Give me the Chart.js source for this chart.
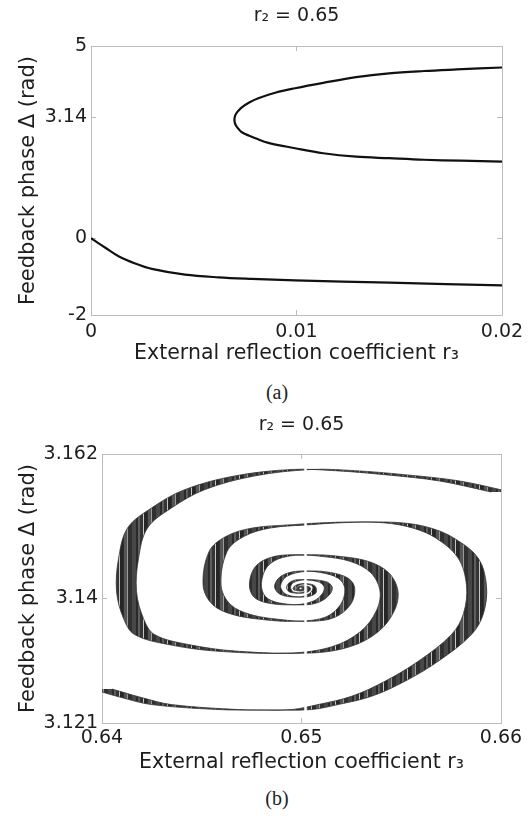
<!DOCTYPE html>
<html>
<head>
<meta charset="utf-8">
<script src="https://cdn.jsdelivr.net/npm/chart.js@4.4.1/dist/chart.umd.min.js"></script>
<style>
  body { margin: 0; width: 532px; height: 816px; background: #fff; position: relative; overflow: hidden; }
  canvas { position: absolute; left: 0; }
  #top { top: 0; }
  #bottom { top: 400px; }
  .tag { position: absolute; left: 0; width: 554px; text-align: center; font: 20px "Liberation Serif", serif; color: #1e1e1e; line-height: 23px; }
</style>
</head>
<body>
<canvas id="top" width="532" height="380"></canvas>
<div class="tag" style="top:381px">(a)</div>
<canvas id="bottom" width="532" height="380"></canvas>
<div class="tag" style="top:787px">(b)</div>
<script>
'use strict';

// (a) ticks
let topXTicks = [0, 0.01, 0.02];
let topYTicks = [-2, 0, 3.14, 5];

// (a) C-shaped branch, upper arm in to the nose then back out along the lower arm
let loopX = [0.0200, 0.0178, 0.0162, 0.0145, 0.0129, 0.0113, 0.00993, 0.0090, 0.00814, 0.0077, 0.00734, 0.00717, 0.00706, 0.00700,
    0.00698, 0.00700, 0.00706, 0.00717, 0.00734, 0.0077, 0.0080, 0.00863, 0.00993, 0.0113, 0.0129, 0.0145, 0.0162, 0.0180, 0.0200];
let loopY = [4.44, 4.39, 4.35, 4.29, 4.19, 4.04, 3.90, 3.79, 3.64, 3.53, 3.405, 3.314, 3.236, 3.16,
    3.08, 3.00, 2.924, 2.846, 2.755, 2.665, 2.60, 2.48, 2.34, 2.21, 2.12, 2.08, 2.04, 2.015, 1.99];

// (a) lower branch starting at the origin
let lowX = [0, 0.0003, 0.0007, 0.00134, 0.00215, 0.00296, 0.00458, 0.0062, 0.00782, 0.00993, 0.01454, 0.0200];
let lowY = [0, -0.11, -0.25, -0.47, -0.66, -0.80, -0.95, -1.02, -1.06, -1.10, -1.16, -1.23];

// (b) ticks
let botXTicks = [0.64, 0.65, 0.66];
let botYTicks = [3.121, 3.14, 3.162];

// (b) spiral arm entering at the top right: centre line and band width in r3
let armAX = [0.6600, 0.65742, 0.65466, 0.65216, 0.65000, 0.64714, 0.64464, 0.64298, 0.64178, 0.64133, 0.64123, 0.64158,
    0.64213, 0.64383, 0.64634, 0.65000, 0.65201, 0.65341, 0.65421, 0.65438, 0.65391, 0.65291, 0.65150, 0.65000,
    0.64875, 0.64799, 0.64769, 0.64789, 0.64860, 0.65000, 0.65080, 0.65125, 0.65133, 0.65100, 0.65000, 0.64950,
    0.64935, 0.64950, 0.65000, 0.65030, 0.65035, 0.65020, 0.65000, 0.64985, 0.64984, 0.65000, 0.65008];
let armAY = [3.15621, 3.15789, 3.15885, 3.15946, 3.15964, 3.15865, 3.15656, 3.15377, 3.15072, 3.14607, 3.14104, 3.13693,
    3.13449, 3.13296, 3.13193, 3.13167, 3.13266, 3.13494, 3.13815, 3.14120, 3.14394, 3.14562, 3.14638, 3.14665,
    3.14623, 3.14485, 3.14226, 3.14028, 3.13929, 3.13903, 3.13959, 3.14074, 3.14180, 3.14257, 3.14284, 3.14241,
    3.14165, 3.14097, 3.14081, 3.14112, 3.14158, 3.14185, 3.14187, 3.14165, 3.14135, 3.14130, 3.14150];
let armAW = [0.001, 0.001, 0.001, 0.001, 0.001, 0.001, 0.001, 0.001, 0.001, 0.001, 0.001, 0.001,
    0.001, 0.001, 0.001, 0.001, 0.0009, 0.0009, 0.0009, 0.0009, 0.0009, 0.0009, 0.0009, 0.0009,
    0.0006, 0.0006, 0.0006, 0.0006, 0.0006, 0.0006, 0.0004, 0.0004, 0.0004, 0.0004, 0.0004, 0.0002,
    0.0002, 0.0002, 0.0002, 0.0002, 0.0002, 0.0002, 0.0001, 0.0001, 0.0001, 0.0001, 0.0001];

// (b) spiral arm entering at the bottom left
let armBX = [0.6400, 0.64148, 0.64298, 0.64632, 0.64825, 0.65000, 0.65133, 0.65301, 0.65468, 0.65635, 0.65802, 0.65862,
    0.65877, 0.65835, 0.65718, 0.65602, 0.65466, 0.65301, 0.65133, 0.65000, 0.64799, 0.64666, 0.64582, 0.64552,
    0.64599, 0.64699, 0.64850, 0.65000, 0.65140, 0.65221, 0.65242, 0.65211, 0.65120, 0.65000, 0.64910, 0.64880,
    0.64910, 0.65000, 0.65055, 0.65065, 0.65045, 0.65000, 0.64970, 0.64967, 0.65000, 0.65015, 0.65010, 0.65000];
let armBY = [3.12618, 3.12488, 3.12381, 3.12305, 3.12298, 3.12305, 3.12381, 3.12507, 3.12735, 3.13040, 3.13449, 3.13769,
    3.14196, 3.14615, 3.14920, 3.15072, 3.15149, 3.15164, 3.15149, 3.15123, 3.15072, 3.14943, 3.14714, 3.14196,
    3.13906, 3.13754, 3.13677, 3.13650, 3.13708, 3.13906, 3.14150, 3.14302, 3.14394, 3.14412, 3.14333, 3.14180,
    3.14058, 3.14020, 3.14074, 3.14165, 3.14211, 3.14219, 3.14180, 3.14135, 3.14113, 3.14142, 3.14165, 3.14168];
let armBW = [0.001, 0.001, 0.001, 0.001, 0.001, 0.001, 0.001, 0.001, 0.001, 0.001, 0.001, 0.001,
    0.001, 0.001, 0.0009, 0.0009, 0.0009, 0.0009, 0.0009, 0.0009, 0.0009, 0.0009, 0.0009, 0.0009,
    0.0009, 0.0009, 0.0009, 0.0009, 0.0005, 0.0005, 0.0005, 0.0005, 0.0005, 0.0005, 0.0003, 0.0003,
    0.0003, 0.0003, 0.0003, 0.00015, 0.00015, 0.00015, 0.00015, 0.00015, 0.0001, 0.0001, 0.0001, 0.0001];

// white break in the bands near r3 = 0.65
let gapX = 0.6502;

Chart.defaults.font.family = '"DejaVu Sans", sans-serif';
Chart.defaults.color = '#1e1e1e';
Chart.defaults.animation = false;

let edge = '#bcbcbc';

function points(xs, ys) {
    return xs.map((x, i) => ({x: x, y: ys[i]}));
}

// outline of a band: left edge out, right edge back
function band(xs, ys, ws) {
    let pts = [];
    for (let i = 0; i < xs.length; i++) {
        pts.push({x: xs[i] - ws[i] / 2, y: ys[i]});
    }
    for (let i = xs.length - 1; i >= 0; i--) {
        pts.push({x: xs[i] + ws[i] / 2, y: ys[i]});
    }
    return pts;
}

function stripes() {
    let cols = ['#262626', '#262626', '#262626', '#2e2e2e', '#555', '#555', '#555', '#9a9a9a', '#303030', '#303030',
        '#303030', '#303030', '#474747', '#474747', '#474747', '#474747', '#2a2a2a', '#2a2a2a', '#5e5e5e', '#5e5e5e',
        '#343434', '#343434', '#343434', '#c4c4c4'];
    let c = document.createElement('canvas');
    c.width = cols.length;
    c.height = 4;
    let g = c.getContext('2d');
    cols.forEach((col, i) => {
        g.fillStyle = col;
        g.fillRect(i, 0, 1, 4);
    });
    return g.createPattern(c, 'repeat');
}

function setTicks(values) {
    return s => {
        s.ticks = values.map(v => ({value: v}));
    };
}

function scales(xr, yr, xTicks, yTicks, yWidth, xHeight, topHeight, xPad, xTitlePad, headPad) {
    let grid = {drawOnChartArea: false, drawTicks: true, tickLength: -5, color: edge};
    let border = {color: edge, width: 1};
    return {
        x: {
            type: 'linear', position: 'bottom', min: xr[0], max: xr[1],
            afterBuildTicks: setTicks(xTicks),
            afterFit: s => { s.height = xHeight; s.paddingLeft = 0; s.paddingRight = 0; },
            grid: grid, border: border,
            ticks: {padding: xPad, font: {size: 19}, maxRotation: 0, autoSkip: false, callback: v => String(v)},
            title: {display: true, text: 'External reflection coefficient r\u2083', font: {size: 20.5}, padding: {top: 0, bottom: xTitlePad}}
        },
        // top edge of the box, also carries the panel heading
        x2: {
            type: 'linear', position: 'top', min: xr[0], max: xr[1],
            afterBuildTicks: setTicks(xTicks),
            afterFit: s => { s.height = topHeight; s.paddingLeft = 0; s.paddingRight = 0; },
            grid: grid, border: border, ticks: {display: false},
            title: {display: true, text: 'r\u2082 = 0.65', font: {size: 19}, padding: {top: headPad, bottom: 0}}
        },
        y: {
            type: 'linear', position: 'left', min: yr[0], max: yr[1],
            afterBuildTicks: setTicks(yTicks),
            afterFit: s => { s.width = yWidth; s.paddingTop = 0; s.paddingBottom = 0; },
            grid: grid, border: border,
            ticks: {padding: 9, font: {size: 19}, autoSkip: false, callback: v => String(v)},
            title: {display: true, text: 'Feedback phase \u0394 (rad)', font: {size: 21}, padding: {top: 16, bottom: 0}}
        },
        y2: {
            type: 'linear', position: 'right', min: yr[0], max: yr[1],
            afterBuildTicks: setTicks(yTicks),
            afterFit: s => { s.width = 0; s.paddingTop = 0; s.paddingBottom = 0; },
            grid: grid, border: border, ticks: {display: false}
        }
    };
}

new Chart(document.getElementById('top'), {
    type: 'scatter',
    data: {
        datasets: [{
            data: points(loopX, loopY), xAxisID: 'x', yAxisID: 'y',
            showLine: true, pointRadius: 0, borderColor: '#111', borderWidth: 2.2, tension: 0.35
        }, {
            data: points(lowX, lowY), xAxisID: 'x', yAxisID: 'y',
            showLine: true, pointRadius: 0, borderColor: '#111', borderWidth: 2.2, tension: 0.35
        }]
    },
    options: {
        responsive: false,
        layout: {padding: {left: 0, right: 30, top: 0, bottom: 0}},
        plugins: {legend: {display: false}, tooltip: {enabled: false}},
        scales: scales([0, 0.02], [-2, 5], topXTicks, topYTicks, 91, 65, 46, 10.5, 14, 5)
    }
});

let fillStripes = stripes();

new Chart(document.getElementById('bottom'), {
    type: 'scatter',
    data: {
        datasets: [{
            data: [{x: gapX, y: 3.1213}, {x: gapX, y: 3.1617}], xAxisID: 'x', yAxisID: 'y',
            showLine: true, pointRadius: 0, borderColor: '#fff', borderWidth: 2.5
        }, {
            data: band(armAX, armAY, armAW), xAxisID: 'x', yAxisID: 'y',
            showLine: true, pointRadius: 0, borderColor: '#333', borderWidth: 0.8,
            backgroundColor: fillStripes, fill: 'shape', tension: 0.35
        }, {
            data: band(armBX, armBY, armBW), xAxisID: 'x', yAxisID: 'y',
            showLine: true, pointRadius: 0, borderColor: '#333', borderWidth: 0.8,
            backgroundColor: fillStripes, fill: 'shape', tension: 0.35
        }]
    },
    options: {
        responsive: false,
        layout: {padding: {left: 0, right: 31, top: 0, bottom: 0}},
        plugins: {legend: {display: false}, tooltip: {enabled: false}},
        scales: scales([0.64, 0.66], [3.121, 3.162], botXTicks, botYTicks, 102, 57, 54, 9, 5, 13.5)
    }
});
</script>
</body>
</html>
